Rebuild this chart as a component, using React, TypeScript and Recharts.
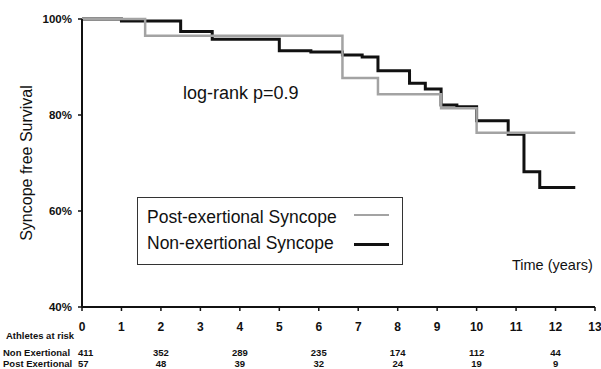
import React from "react";
import { LineChart, Line, XAxis, YAxis, Legend } from "recharts";

// Kaplan-Meier step data (time in years, survival in %)
const postTimes = [0, 1.6, 6.6, 7.5, 9.1, 10.0, 12.5];
const postSurvival = [100, 96.5, 87.7, 84.3, 81.4, 76.3, 76.3];

const nonTimes = [0, 1.0, 2.5, 3.3, 5.0, 5.8, 6.6, 7.1, 7.5, 8.3, 8.7, 9.1, 9.5, 10.0, 10.8, 11.2, 11.6, 12.5];
const nonSurvival = [100, 99.6, 97.4, 95.8, 93.4, 93.1, 92.5, 92.1, 89.2, 86.6, 85.4, 82.1, 81.7, 78.8, 76.0, 68.2, 64.9, 64.9];

const xTicks = [0, 1, 2, 3, 4, 5, 6, 7, 8, 9, 10, 11, 12, 13];
const yTicks = [40, 60, 80, 100];

const riskTimes = [0, 2, 4, 6, 8, 10, 12];
const riskNon = [411, 352, 289, 235, 174, 112, 44];
const riskPost = [57, 48, 39, 32, 24, 19, 9];

const postData = postTimes.map((t, i) => ({ t, s: postSurvival[i] }));
const nonData = nonTimes.map((t, i) => ({ t, s: nonSurvival[i] }));

const FONT = "'Liberation Sans', Arial, Helvetica, sans-serif";
const GRAY = "#a3a3a3";

const XTick = (props: any) => {
  const { x, y, payload } = props;
  const v = payload.value;
  const ri = riskTimes.indexOf(v);
  return (
    <g>
      <text x={x} y={y} dy="0.71em" textAnchor="middle" fontFamily={FONT} fontWeight="bold" fontSize={12} fill="#111">
        {v}
      </text>
      {v === 0 && (
        <g fontFamily={FONT} fontWeight="bold" fontSize={9.5} fill="#111">
          <text x={6} y={338.5} textAnchor="start">Athletes at risk</text>
          <text x={3} y={355.5} textAnchor="start">Non Exertional</text>
          <text x={3} y={366.5} textAnchor="start">Post Exertional</text>
        </g>
      )}
      {ri >= 0 && (
        <g fontFamily={FONT} fontWeight="bold" fontSize={9.5} fill="#111">
          <text x={ri === 0 ? x - 4 : x} y={355.5} textAnchor={ri === 0 ? "start" : "middle"}>{riskNon[ri]}</text>
          <text x={ri === 0 ? x - 4 : x} y={366.5} textAnchor={ri === 0 ? "start" : "middle"}>{riskPost[ri]}</text>
        </g>
      )}
    </g>
  );
};

const LegendBox = () => (
  <div
    style={{
      position: "relative",
      width: 266,
      height: 68,
      boxSizing: "border-box",
      border: "1.5px solid #333",
      background: "#fff",
      fontFamily: FONT,
      fontSize: 17.5,
      color: "#111",
    }}
  >
    <div style={{ position: "absolute", left: 9, top: 9, lineHeight: "20px", whiteSpace: "nowrap" }}>Post-exertional Syncope</div>
    <div style={{ position: "absolute", left: 9, top: 35, lineHeight: "20px", whiteSpace: "nowrap" }}>Non-exertional Syncope</div>
    <div style={{ position: "absolute", left: 216, top: 16, width: 35, height: 2, background: GRAY }} />
    <div style={{ position: "absolute", left: 216, top: 45, width: 35, height: 3, background: "#111" }} />
  </div>
);

export default function App() {
  return (
    <div style={{ position: "absolute", left: 0, top: 0, width: 601, height: 369, background: "#fff" }}>
      <LineChart width={601} height={369} margin={{ top: 19, right: 6, bottom: 0, left: 0 }}>
        <XAxis
          dataKey="t"
          type="number"
          domain={[0, 13]}
          ticks={xTicks}
          interval={0}
          height={62}
          axisLine={{ stroke: "#111", strokeWidth: 2 }}
          tickLine={{ stroke: "#111", strokeWidth: 1.5 }}
          tickSize={4}
          tickMargin={11}
          tick={<XTick />}
        />
        <YAxis
          type="number"
          domain={[40, 100]}
          ticks={yTicks}
          interval={0}
          width={82}
          axisLine={{ stroke: "#111", strokeWidth: 2 }}
          tickLine={{ stroke: "#111", strokeWidth: 1.5 }}
          tickSize={4}
          tickMargin={6}
          tickFormatter={(v: number) => `${v}%`}
          tick={{ fontFamily: FONT, fontWeight: "bold", fontSize: 11.5, fill: "#111" }}
          label={{
            value: "Syncope free Survival",
            angle: -90,
            position: "insideLeft",
            offset: 0,
            dx: 26,
            style: { fontFamily: FONT, fontSize: 16, fill: "#111", textAnchor: "middle" },
          }}
        />
        <Legend
          layout="horizontal"
          verticalAlign="middle"
          align="center"
          content={() => <LegendBox />}
          wrapperStyle={{ left: 137, top: 197, width: 266, height: 68 }}
        />
        <Line
          data={nonData}
          dataKey="s"
          type="stepAfter"
          stroke="#111"
          strokeWidth={3}
          dot={false}
          activeDot={false}
          isAnimationActive={false}
          name="Non-exertional Syncope"
        />
        <Line
          data={postData}
          dataKey="s"
          type="stepAfter"
          stroke={GRAY}
          strokeWidth={2.5}
          dot={false}
          activeDot={false}
          isAnimationActive={false}
          name="Post-exertional Syncope"
        />
      </LineChart>
      <div style={{ position: "absolute", left: 183, top: 82, fontFamily: FONT, fontSize: 18, lineHeight: "22px", color: "#111", whiteSpace: "nowrap" }}>
        log-rank p=0.9
      </div>
      <div style={{ position: "absolute", left: 512, top: 256, fontFamily: FONT, fontSize: 14.5, lineHeight: "18px", color: "#111", whiteSpace: "nowrap" }}>
        Time (years)
      </div>
    </div>
  );
}
